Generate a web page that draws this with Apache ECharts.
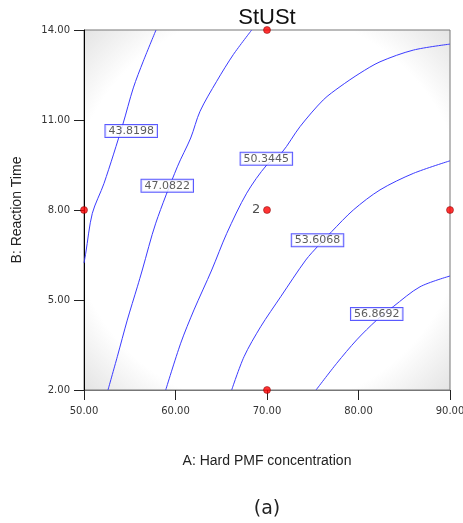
<!DOCTYPE html>
<html><head><meta charset="utf-8">
<script src="https://cdn.jsdelivr.net/npm/echarts@6/dist/echarts.min.js"></script>
<style>html,body{margin:0;padding:0;background:#fff}#c{width:463px;height:523px}</style>
</head><body><div id="c"></div>
<script>
// ---- data ----
const xTicks = [50, 60, 70, 80, 90];
const yTicks = [2, 5, 8, 11, 14];
const levels = ['43.8198', '47.0822', '50.3445', '53.6068', '56.8692'];
const contour1 = [[57.87,14],[56.48,12.96],[55.39,12.07],[54.23,10.84],[52.19,8.89],[50.91,7.89],[50.19,6.56],[50.0,6.23]];
const contour2 = [[68.33,14],[66.32,13.18],[64.5,12.29],[62.68,11.29],[61.66,10.4],[60.2,9.44],[57.84,7.56],[56.37,6.0],[55.83,5.44],[54.73,4.33],[53.64,3.11],[52.62,2.0]];
const contour3 = [[90,13.53],[85.99,13.33],[82.35,12.94],[80.16,12.56],[77.98,12.11],[76.15,11.67],[73.61,10.78],[71.61,9.91],[69.97,9.5],[67.78,8.56],[65.6,7.22],[63.96,6.0],[62.02,4.67],[60.57,3.56],[58.93,2.0]];
const contour4 = [[90,9.64],[85.99,9.22],[82.35,8.67],[79.43,8.0],[77.07,7.28],[75.61,6.81],[74.23,6.33],[71.5,5.11],[69.31,4.11],[67.49,3.11],[66.14,2.0]];
const contour5 = [[90,5.8],[86.72,5.44],[83.8,4.78],[81.99,4.33],[79.8,3.67],[77.62,2.89],[75.36,2.0]];
const labelPos = [[55.16,10.63],[59.1,8.81],[69.93,9.71],[75.52,6.99],[81.99,4.53]];
const designPoints = [[50,8],[70,14],[70,8],[90,8],[70,2]];
const pointTags = ['', '', '2', '', ''];
const title = 'StUSt';
const xName = 'A: Hard PMF concentration';
const yName = 'B: Reaction Time';
const caption = '(a)';

const contours = [contour1, contour2, contour3, contour4, contour5];
const blue = '#3b3bff';

const chart = echarts.init(document.getElementById('c'), null, {renderer: 'canvas'});
const series = contours.map((c, i) => ({
  type: 'line', name: levels[i], data: c, smooth: 0.3, showSymbol: false, silent: true,
  lineStyle: {color: blue, width: 1}, z: 2, clip: true
}));
series.push({
  type: 'scatter', data: labelPos.map((p, i) => [p[0], p[1], levels[i]]),
  symbol: 'rect', symbolSize: 1, itemStyle: {color: 'rgba(0,0,0,0)'}, silent: true, z: 5,
  label: {show: true, position: 'inside', formatter: p => p.data[2],
    backgroundColor: '#fff', borderColor: '#3030ff', borderWidth: 1, padding: [1, 3, 0, 3],
    fontSize: 11, lineHeight: 11, color: '#333', fontFamily: 'DejaVu Sans'}
});
series.push({
  type: 'scatter', data: designPoints.map((p, i) => [p[0], p[1], pointTags[i]]),
  symbol: 'circle', symbolSize: 7, z: 10, silent: true, clip: false,
  itemStyle: {color: '#ff0000', borderColor: '#700', borderWidth: 0.6},
  label: {show: true, position: 'left', distance: 3, formatter: p => p.data[2],
    fontSize: 13, color: '#222', fontFamily: 'DejaVu Sans'}
});

chart.setOption({
  animation: false,
  backgroundColor: '#fff',
  grid: {left: 84, right: 13, top: 30, bottom: 133, outerBoundsMode: 'none', containLabel: false,
    show: true, borderColor: '#777', borderWidth: 1,
    backgroundColor: {type: 'radial', x: 0.5, y: 0.5, r: 0.72,
      colorStops: [{offset: 0, color: '#ffffff'}, {offset: 0.76, color: '#ffffff'}, {offset: 1, color: '#e2e2e2'}]}},
  xAxis: {type: 'value', min: xTicks[0], max: xTicks[xTicks.length - 1], interval: xTicks[1] - xTicks[0],
    name: xName, nameLocation: 'middle', nameGap: 64,
    nameTextStyle: {fontSize: 14, color: '#222', fontFamily: 'Liberation Sans'},
    axisLine: {onZero: false, lineStyle: {color: '#777', width: 1}},
    axisTick: {show: true, length: 10, inside: false, lineStyle: {color: '#222'}},
    axisLabel: {formatter: v => v.toFixed(2), fontSize: 10, color: '#333', fontFamily: 'DejaVu Sans', margin: 16,
      showMinLabel: true, showMaxLabel: true},
    splitLine: {show: false}},
  yAxis: {type: 'value', min: yTicks[0], max: yTicks[yTicks.length - 1], interval: yTicks[1] - yTicks[0],
    name: yName, nameLocation: 'middle', nameGap: 60, nameRotate: 90,
    nameTextStyle: {fontSize: 14, color: '#222', fontFamily: 'Liberation Sans'},
    axisLine: {show: true, onZero: false, lineStyle: {color: '#000', width: 1}},
    axisTick: {show: true, length: 10, inside: false, lineStyle: {color: '#222'}},
    axisLabel: {formatter: v => v.toFixed(2), fontSize: 10, color: '#333', fontFamily: 'DejaVu Sans', margin: 14,
      showMinLabel: true, showMaxLabel: true},
    splitLine: {show: false}},
  graphic: [
    {type: 'text', z: 20, style: {text: title, x: 267, y: 18, textAlign: 'center', textVerticalAlign: 'middle',
      font: '22px "Liberation Sans"', fill: '#111'}},
    {type: 'text', z: 20, style: {text: caption, x: 267, y: 509, textAlign: 'center', textVerticalAlign: 'middle',
      font: '19px "DejaVu Sans"', fill: '#222'}}
  ],
  series: series
});
</script></body></html>
